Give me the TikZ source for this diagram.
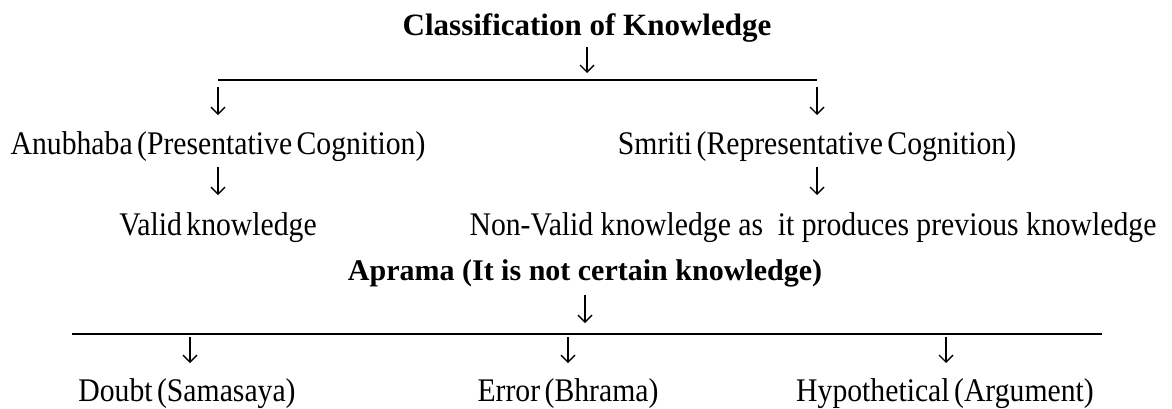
\documentclass[tikz,border=0pt]{standalone}
\usepackage{fontspec}
\setmainfont{Liberation Serif}
\newfontfamily\narrowserif[FakeStretch=0.9, WordSpace=0.6]{Liberation Serif}
\usetikzlibrary{arrows.meta}
\newcommand{\widespaces}{\spaceskip=7.4pt plus 2pt minus 1pt\relax}
\begin{document}
\begin{tikzpicture}[x=1pt,y=-1pt,
  lbl/.style={inner sep=0pt, anchor=base, font=\fontsize{33}{36}\narrowserif},
  head/.style={inner sep=0pt, anchor=base, font=\fontsize{30}{33}\selectfont\bfseries},
  bar/.style={line width=2.5pt},
  down/.style={line width=1.4pt, -{Straight Barb[length=7pt,width=14pt]}}]
\useasboundingbox (0,0) rectangle (1172,408);

% top classification
\node[head, font=\fontsize{31}{34}\selectfont\bfseries] (title) at (587,35) {Classification of Knowledge};
\coordinate (t0) at (587,47);  \coordinate (h0) at (587,73);
\draw[down] (t0) -- (h0);
\coordinate (b1l) at (218,80);
\coordinate (b1r) at (817,80);
\draw[bar] (b1l) -- (b1r);
\coordinate (t1) at (218,87);  \coordinate (h1) at (218,115);
\coordinate (t2) at (817,87);  \coordinate (h2) at (817,115);
\draw[down] (t1) -- (h1);
\draw[down] (t2) -- (h2);
\node[lbl] (anub) at (218,154) {Anubhaba (Presentative Cognition)};
\node[lbl] (smriti) at (817,154) {Smriti (Representative Cognition)};
\coordinate (t3) at (218,167); \coordinate (h3) at (218,195);
\coordinate (t4) at (817,167); \coordinate (h4) at (817,195);
\draw[down] (t3) -- (h3);
\draw[down] (t4) -- (h4);
\node[lbl] (valid) at (218,235) {Valid knowledge};
\node[lbl] (nonvalid) at (813,235) {\widespaces Non-Valid knowledge as\ \ it produces previous knowledge};

% aprama
\node[head] (aprama) at (585,280) {Aprama (It is not certain knowledge)};
\coordinate (t5) at (585,295); \coordinate (h5) at (585,323);
\draw[down] (t5) -- (h5);
\coordinate (b2l) at (72,334);
\coordinate (b2r) at (1102,334);
\draw[bar] (b2l) -- (b2r);
\coordinate (t6) at (190,337); \coordinate (h6) at (190,363);
\coordinate (t7) at (568,337); \coordinate (h7) at (568,363);
\coordinate (t8) at (946,337); \coordinate (h8) at (946,363);
\draw[down] (t6) -- (h6);
\draw[down] (t7) -- (h7);
\draw[down] (t8) -- (h8);
\node[lbl] (doubt) at (187,401) {Doubt (Samasaya)};
\node[lbl] (error) at (568,401) {Error (Bhrama)};
\node[lbl] (hypo) at (945,401) {Hypothetical (Argument)};
\end{tikzpicture}
\end{document}
